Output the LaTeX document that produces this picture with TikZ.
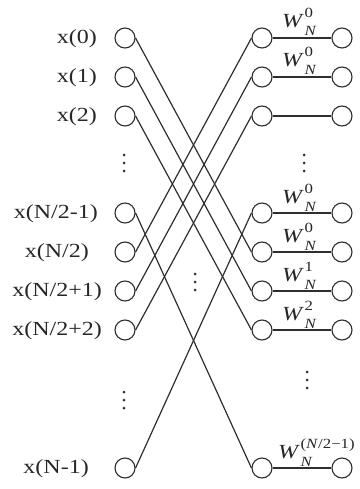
\documentclass[tikz,border=0pt]{standalone}
\usepackage{fontspec}
\setmainfont{Liberation Serif}
\usepackage{graphicx}
\definecolor{lc}{HTML}{2E2E2E}
\newcommand\xlab[1]{\scalebox{1.2}[1]{#1}}
\newcommand\twid[1]{\scalebox{1.2}[1]{\textit{W}\kern0.5pt\makebox[0pt][l]{\raisebox{0.5em}{\fontsize{14}{14}\selectfont #1}}\raisebox{-0.4em}{\fontsize{14}{14}\selectfont\textit{N}}}}
\newcommand\threedots[2]{\fill[lc] (#1,-#2+8) circle (1.5pt) (#1,-#2) circle (1.5pt) (#1,-#2-8) circle (1.5pt);}
\tikzset{
  io/.style={circle, draw=lc, line width=1.1pt, minimum size=20pt, inner sep=0pt},
  lab/.style={anchor=east, inner sep=0pt, text=black!85, font=\fontsize{20}{24}\selectfont},
  wire/.style={draw=lc, line width=1.2pt},
  twl/.style={anchor=base west, inner sep=0pt, text=black!85, font=\fontsize{20}{24}\selectfont}
}
\begin{document}
\begin{tikzpicture}[x=1pt,y=1pt]
\useasboundingbox (0,0) rectangle (359,-489);
% rows
\foreach \i/\r in {0/38,1/77,2/116,3/213,4/252,5/291,6/330,7/468}{
  \node[io] (L\i) at (125,-\r) {};
  \node[io] (M\i) at (262,-\r) {};
  \node[io] (R\i) at (342,-\r) {};
  \draw[wire] (M\i.east) -- (R\i.west);
}
% left labels
\node[lab] (t0) at (97,-39) {\xlab{x(0)}};
\node[lab] (t1) at (97,-78) {\xlab{x(1)}};
\node[lab] (t2) at (97,-117) {\xlab{x(2)}};
\node[lab] (t3) at (98,-214) {\xlab{x(N/2-1)}};
\node[lab] (t4) at (89,-253) {\xlab{x(N/2)}};
\node[lab] (t5) at (102,-292) {\xlab{x(N/2+1)}};
\node[lab] (t6) at (102,-331) {\xlab{x(N/2+2)}};
\node[lab] (t7) at (89,-469) {\xlab{x(N-1)}};
% butterflies
\foreach \a/\b in {0/4,1/5,2/6,3/7,4/0,5/1,6/2,7/3}{
  \draw[wire] (L\a.east) -- (M\b.west);
}
% twiddle labels
\node[twl] (w0) at (282,-28) {\twid{0}};
\node[twl] (w1) at (282,-67) {\twid{0}};
\node[twl] (w3) at (282,-203) {\twid{0}};
\node[twl] (w4) at (282,-242) {\twid{0}};
\node[twl] (w5) at (282,-281) {\twid{1}};
\node[twl] (w6) at (282,-320) {\twid{2}};
\node[twl] (w7) at (278,-458) {\twid{(\textit{N}/2−1)}};
% dots
\threedots{124}{163}
\threedots{124}{400}
\threedots{195}{282}
\threedots{304}{163}
\threedots{307}{380}
\end{tikzpicture}
\end{document}
